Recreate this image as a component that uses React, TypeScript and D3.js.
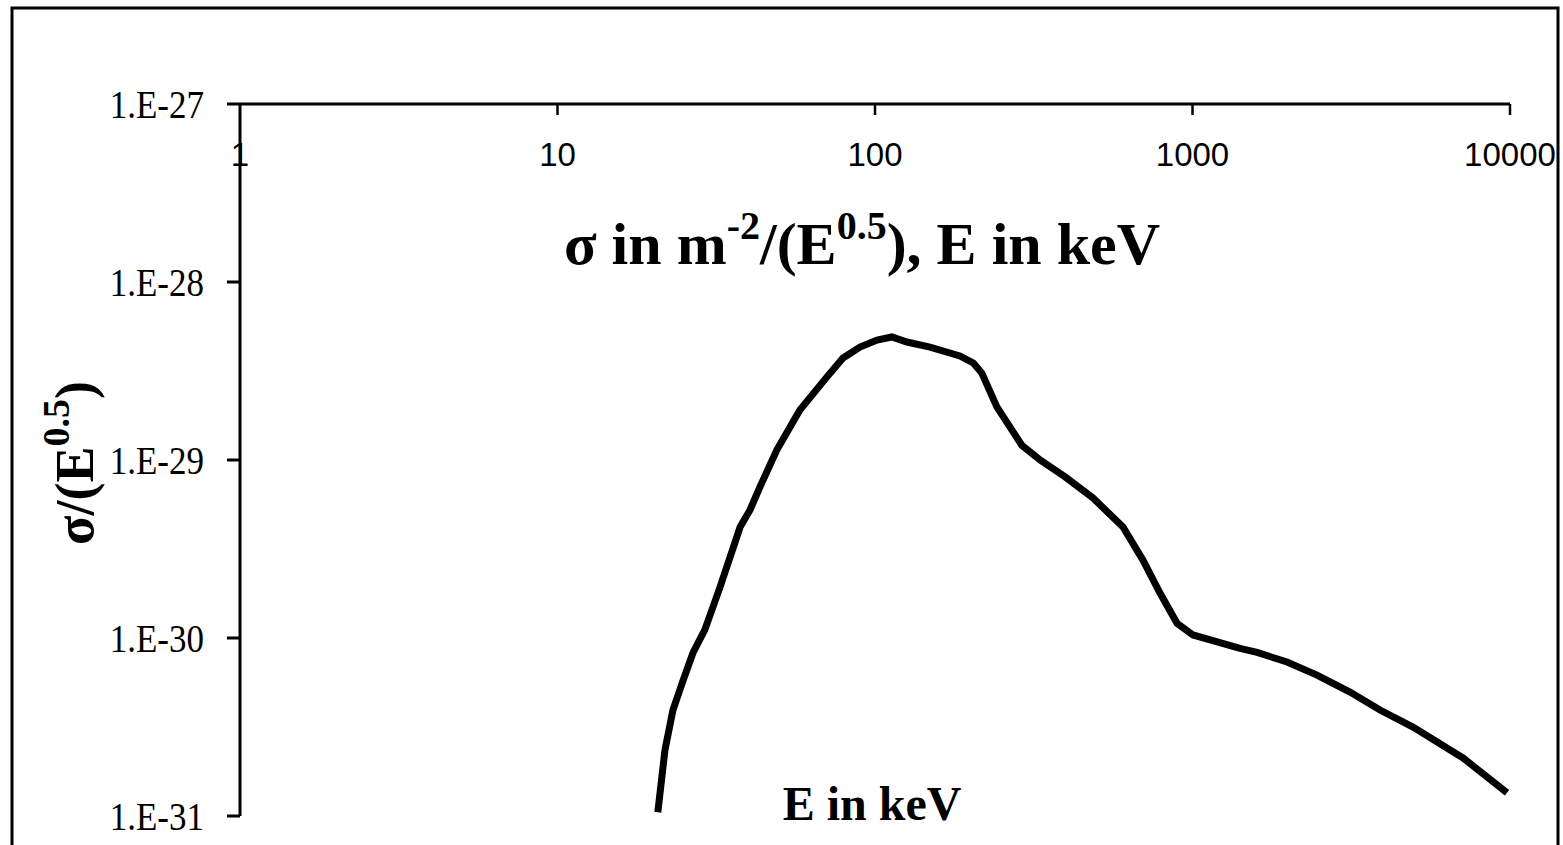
import React from "react";
import * as d3 from "d3";

// energy in keV and sigma/(E^0.5)
const energyKeV = [
  20.7, 21.8, 23.1, 24.9, 26.7, 29.1, 32.5, 37.6, 40.4, 43.4, 49.1, 58.0, 70.6, 79.3,
  89.7, 101.5, 113, 126, 149, 185, 204, 217, 242, 290, 331, 397, 486, 604, 698, 790,
  894, 1004, 1411, 1597, 1985, 2467, 3134, 3896, 4949, 7112, 9786,
];
const sigmaPerRootE = [
  1.05e-31, 2.35e-31, 3.94e-31, 5.81e-31, 8.24e-31, 1.11e-30, 1.93e-30, 4.2e-30, 5.24e-30,
  7.05e-30, 1.14e-29, 1.91e-29, 2.93e-29, 3.74e-29, 4.31e-29, 4.72e-29, 4.91e-29, 4.6e-29,
  4.31e-29, 3.84e-29, 3.51e-29, 3.08e-29, 1.99e-29, 1.21e-29, 1.0e-29, 8.03e-30, 6.12e-30,
  4.2e-30, 2.74e-30, 1.79e-30, 1.21e-30, 1.04e-30, 8.75e-31, 8.3e-31, 7.33e-31, 6.19e-31,
  4.97e-31, 3.94e-31, 3.16e-31, 2.12e-31, 1.35e-31,
];

const xTicks = [1, 10, 100, 1000, 10000];
const xTickLabels = ["1", "10", "100", "1000", "10000"];
const yTicks = [1e-27, 1e-28, 1e-29, 1e-30, 1e-31];
const yTickLabels = ["1.E-27", "1.E-28", "1.E-29", "1.E-30", "1.E-31"];

const serif = "Liberation Serif";
const sans = "Liberation Sans";

export default function App() {
  const x = d3.scaleLog().domain([1, 10000]).range([240, 1510]);
  const y = d3.scaleLog().domain([1e-31, 1e-27]).range([816, 104]);

  const points: [number, number][] = energyKeV.map((e, i) => [e, sigmaPerRootE[i]]);
  const line = d3
    .line<[number, number]>()
    .x(d => x(d[0]))
    .y(d => y(d[1]));

  return (
    <svg
      width={1563}
      height={845}
      style={{ position: "absolute", left: 0, top: 0, background: "white" }}
    >
      {/* outer frame */}
      <rect x={12} y={8} width={1546} height={860} fill="none" stroke="black" strokeWidth={3} />

      {/* x axis on top */}
      <line x1={240} y1={104} x2={x(10000)} y2={104} stroke="black" strokeWidth={3} />
      {xTicks.slice(1).map(t => (
        <line key={t} x1={x(t)} x2={x(t)} y1={104} y2={115} stroke="black" strokeWidth={2.5} />
      ))}
      {xTicks.map((t, i) => (
        <text
          key={t}
          x={x(t)}
          y={166}
          textAnchor="middle"
          fontFamily={sans}
          fontSize={33}
          fill="black"
        >
          {xTickLabels[i]}
        </text>
      ))}

      {/* y axis */}
      <line x1={240} y1={104} x2={240} y2={y(1e-31)} stroke="black" strokeWidth={3} />
      {yTicks.map((t, i) => (
        <g key={t}>
          <line x1={227} x2={240} y1={y(t)} y2={y(t)} stroke="black" strokeWidth={3} />
          <text
            transform={`translate(204, ${y(t) + 14}) scale(1, 1.15)`}
            textAnchor="end"
            fontFamily={serif}
            fontSize={35}
            fill="black"
          >
            {yTickLabels[i]}
          </text>
        </g>
      ))}

      {/* curve */}
      <path d={line(points) || ""} fill="none" stroke="black" strokeWidth={7} />

      {/* title */}
      <text
        x={862}
        y={264}
        textAnchor="middle"
        fontFamily={serif}
        fontWeight="bold"
        fontSize={60}
      >
        σ in m
        <tspan fontSize={40} dy={-25}>-2</tspan>
        <tspan dy={25}>/(E</tspan>
        <tspan fontSize={40} dy={-25}>0.5</tspan>
        <tspan dy={25}>), E in keV</tspan>
      </text>

      {/* x axis title */}
      <text
        x={872}
        y={820}
        textAnchor="middle"
        fontFamily={serif}
        fontWeight="bold"
        fontSize={48}
      >
        E in keV
      </text>

      {/* y axis title */}
      <text
        transform="translate(93, 463) rotate(-90)"
        textAnchor="middle"
        fontFamily={serif}
        fontWeight="bold"
        fontSize={54}
      >
        σ/(E
        <tspan fontSize={38} dy={-24}>0.5</tspan>
        <tspan dy={24}>)</tspan>
      </text>
    </svg>
  );
}
